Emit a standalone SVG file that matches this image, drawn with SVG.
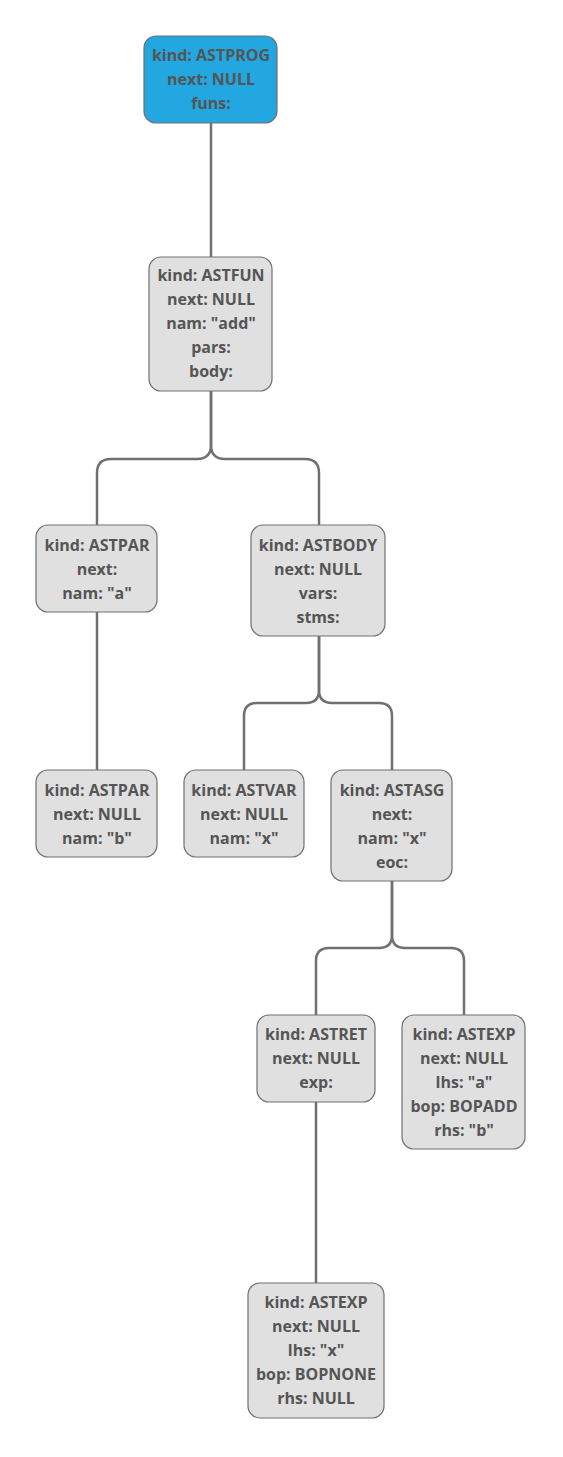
<svg xmlns="http://www.w3.org/2000/svg" width="563" height="1457" viewBox="0 0 563 1457">
<style>
.n rect{fill:#e0e0e0;stroke:#707070;stroke-width:1.2}
.n.root rect{fill:#22a7e0}
.n text{font-family:"Open Sans","Noto Sans",sans-serif;font-weight:700;font-size:16px;fill:#555555;text-anchor:middle}
.c path{fill:none;stroke:#707070;stroke-width:2.5}
</style>
<rect width="563" height="1457" fill="#ffffff"/>
<g id="connectors" class="c">
<path d="M211,123V257"/>
<path d="M211,391V445Q211,459 197,459H111Q97,459 97,473V525"/>
<path d="M211,391V445Q211,459 225,459H305Q319,459 319,473V525"/>
<path d="M97,612V770"/>
<path d="M319,636V690Q319,703 306,703H257Q244,703 244,716V770"/>
<path d="M319,636V690Q319,703 332,703H379Q392,703 392,716V770"/>
<path d="M392,881V935Q392,948 379,948H329Q316,948 316,961V1015"/>
<path d="M392,881V935Q392,948 405,948H451Q464,948 464,961V1015"/>
<path d="M316,1102V1283"/>
</g>
<g id="n1" class="n root"><rect x="144" y="36" width="133" height="87" rx="12"/>
<text x="211" y="61">kind: ASTPROG</text><text x="211" y="85">next: NULL</text><text x="211" y="109">funs:</text></g>
<g id="n2" class="n"><rect x="149" y="257" width="123" height="134" rx="12"/>
<text x="211" y="281">kind: ASTFUN</text><text x="211" y="305">next: NULL</text><text x="211" y="329">nam: "add"</text><text x="211" y="353">pars:</text><text x="211" y="377">body:</text></g>
<g id="n3" class="n"><rect x="36" y="525" width="121" height="87" rx="12"/>
<text x="97" y="551">kind: ASTPAR</text><text x="97" y="575">next:</text><text x="97" y="599">nam: "a"</text></g>
<g id="n4" class="n"><rect x="251" y="525" width="134" height="111" rx="12"/>
<text x="318" y="551">kind: ASTBODY</text><text x="318" y="575">next: NULL</text><text x="318" y="599">vars:</text><text x="318" y="623">stms:</text></g>
<g id="n5" class="n"><rect x="36" y="770" width="121" height="87" rx="12"/>
<text x="97" y="796">kind: ASTPAR</text><text x="97" y="820">next: NULL</text><text x="97" y="844">nam: "b"</text></g>
<g id="n6" class="n"><rect x="184" y="770" width="120" height="87" rx="12"/>
<text x="244" y="796">kind: ASTVAR</text><text x="244" y="820">next: NULL</text><text x="244" y="844">nam: "x"</text></g>
<g id="n7" class="n"><rect x="331" y="770" width="121" height="111" rx="12"/>
<text x="392" y="796">kind: ASTASG</text><text x="392" y="820">next:</text><text x="392" y="844">nam: "x"</text><text x="392" y="868">eoc:</text></g>
<g id="n8" class="n"><rect x="257" y="1015" width="118" height="87" rx="12"/>
<text x="316" y="1040">kind: ASTRET</text><text x="316" y="1064">next: NULL</text><text x="316" y="1088">exp:</text></g>
<g id="n9" class="n"><rect x="402" y="1015" width="123" height="134" rx="12"/>
<text x="464" y="1040">kind: ASTEXP</text><text x="464" y="1064">next: NULL</text><text x="464" y="1088">lhs: "a"</text><text x="464" y="1112">bop: BOPADD</text><text x="464" y="1136">rhs: "b"</text></g>
<g id="n10" class="n"><rect x="248" y="1283" width="136" height="135" rx="12"/>
<text x="316" y="1308">kind: ASTEXP</text><text x="316" y="1332">next: NULL</text><text x="316" y="1356">lhs: "x"</text><text x="316" y="1380">bop: BOPNONE</text><text x="316" y="1404">rhs: NULL</text></g>
</svg>
